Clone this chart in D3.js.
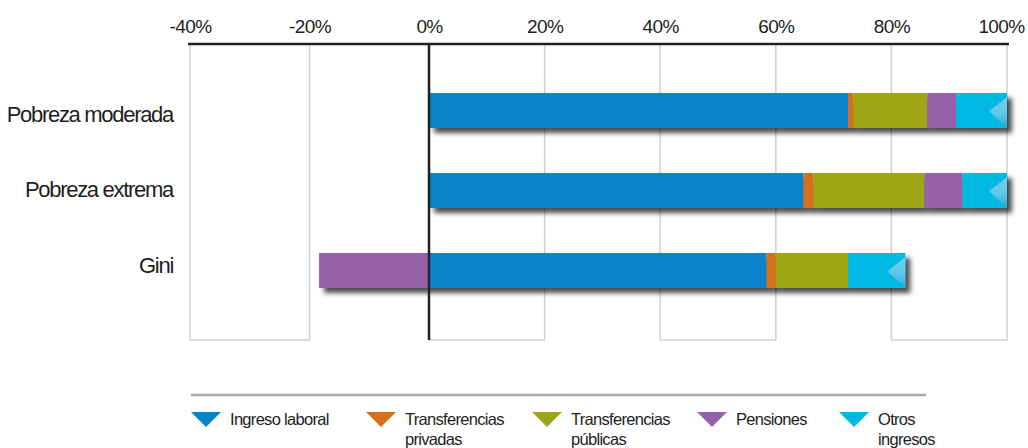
<!DOCTYPE html>
<html>
<head>
<meta charset="utf-8">
<script src="https://cdn.jsdelivr.net/npm/d3@7"></script>
<style>
  html, body { margin: 0; padding: 0; background: #fff; }
  svg { display: block; }
  text { font-family: "Liberation Sans", Arial, sans-serif; fill: #1e1e1e; }
</style>
</head>
<body>
<svg id="chart" width="1028" height="448"></svg>
<script>
// ---- data ----
const categories = ["Pobreza moderada", "Pobreza extrema", "Gini"];
const seriesNames = ["Ingreso laboral", "Transferencias privadas", "Transferencias públicas", "Pensiones", "Otros ingresos"];
const legendLabels = [["Ingreso laboral"], ["Transferencias", "privadas"], ["Transferencias", "públicas"], ["Pensiones"], ["Otros", "ingresos"]];
const ingresoLaboral = [72.5, 64.8, 58.4];
const transferenciasPrivadas = [0.9, 1.7, 1.6];
const transferenciasPublicas = [12.8, 19.2, 12.5];
const pensiones = [5.0, 6.6, -18.4];
const otrosIngresos = [8.8, 7.7, 9.9];
const tickValues = [-40, -20, 0, 20, 40, 60, 80, 100];
const colors = ["#0784c9", "#d6701c", "#9fa518", "#9461a8", "#00b9e2"];

const rows = categories.map((c, i) => ({
  cat: c,
  "Ingreso laboral": ingresoLaboral[i],
  "Transferencias privadas": transferenciasPrivadas[i],
  "Transferencias públicas": transferenciasPublicas[i],
  "Pensiones": pensiones[i],
  "Otros ingresos": otrosIngresos[i]
}));

const svg = d3.select("#chart");
const plotTop = 44, plotBottom = 340;

const x = d3.scaleLinear().domain([-40, 0, 100]).range([190, 429, 1007]);
const y = d3.scaleBand().domain(categories).range([73, 308]).paddingInner(0.5625).paddingOuter(0.25);
const color = d3.scaleOrdinal().domain(seriesNames).range(colors);

// defs: shadow + triangle gradient
const defs = svg.append("defs");
const f = defs.append("filter").attr("id", "shadow").attr("x", "-5%").attr("y", "-30%").attr("width", "115%").attr("height", "190%");
f.append("feDropShadow").attr("dx", 5).attr("dy", 5).attr("stdDeviation", 2.6)
  .attr("flood-color", "#000").attr("flood-opacity", 0.7);
const g1 = defs.append("linearGradient").attr("id", "triGrad").attr("x1", 0).attr("y1", 0).attr("x2", 0).attr("y2", 1);
g1.append("stop").attr("offset", "0%").attr("stop-color", "#6fd0f0");
g1.append("stop").attr("offset", "55%").attr("stop-color", "#5cc8ec");
g1.append("stop").attr("offset", "100%").attr("stop-color", "#2aa6d0");

// alternating boxes
const boxes = [];
for (let i = 0; i + 1 < tickValues.length; i += 2) boxes.push([tickValues[i], tickValues[i + 1]]);
svg.append("g").selectAll("rect").data(boxes).join("rect")
  .attr("x", d => x(d[0])).attr("y", plotTop)
  .attr("width", d => x(d[1]) - x(d[0])).attr("height", plotBottom - plotTop)
  .attr("fill", "none").attr("stroke", "#d2d2d2").attr("stroke-width", 1.5);

// top axis labels
const axis = d3.axisTop(x).tickValues(tickValues).tickFormat(d => d + "%").tickSize(0).tickPadding(0);
const ax = svg.append("g").attr("transform", `translate(0,${plotTop})`).call(axis);
ax.select(".domain").remove();
ax.selectAll("text")
  .attr("y", -11).attr("dy", 0)
  .attr("dx", (d, i) => (i === tickValues.length - 1 ? -6 : 0))
  .style("font-family", "'Liberation Sans', Arial, sans-serif")
  .style("font-size", "19px").style("letter-spacing", "-0.6px").style("fill", "#1e1e1e");

// stacked bars
const stack = d3.stack().keys(seriesNames).offset(d3.stackOffsetDiverging);
const stacked = stack(rows);

const rowG = svg.append("g").selectAll("g").data(categories).join("g").attr("filter", "url(#shadow)");
rowG.each(function (cat, ri) {
  const g = d3.select(this);
  stacked.forEach(s => {
    const d = s[ri];
    g.append("rect")
      .attr("x", x(Math.min(d[0], d[1])))
      .attr("y", y(cat))
      .attr("width", Math.abs(x(d[1]) - x(d[0])))
      .attr("height", y.bandwidth())
      .attr("fill", color(s.key));
  });
});

// end triangles on the last positive segment
const last = stacked[stacked.length - 1];
svg.append("g").selectAll("path").data(categories).join("path")
  .attr("d", (cat, i) => {
    const xe = x(last[i][1]);
    const t = y(cat), b = t + y.bandwidth();
    const m = t + y.bandwidth() * 0.52;
    return `M${xe},${t + 4}L${xe - 18},${m}L${xe},${b}Z`;
  })
  .attr("fill", "url(#triGrad)");

// zero line and top line
svg.append("line").attr("x1", x(0)).attr("x2", x(0)).attr("y1", plotTop).attr("y2", plotBottom)
  .attr("stroke", "#222").attr("stroke-width", 2.5);
svg.append("line").attr("x1", 188).attr("x2", 1009).attr("y1", plotTop).attr("y2", plotTop)
  .attr("stroke", "#222").attr("stroke-width", 2.5);

// category labels
const labelDy = [11, 6, 2];
svg.append("g").selectAll("text").data(categories).join("text")
  .attr("x", 173).attr("y", (d, i) => y(d) + y.bandwidth() / 2 + labelDy[i])
  .attr("text-anchor", "end")
  .style("font-size", "22px").style("letter-spacing", "-1.3px")
  .text(d => d);

// legend
svg.append("line").attr("x1", 191).attr("x2", 926).attr("y1", 395).attr("y2", 395)
  .attr("stroke", "#a8a8a8").attr("stroke-width", 2.7);
const legendX = [191, 366, 532, 697, 839];
const lg = svg.append("g").selectAll("g").data(seriesNames).join("g")
  .attr("transform", (d, i) => `translate(${legendX[i]},412)`);
lg.append("path").attr("d", "M0,0L30,0L15,15Z").attr("fill", d => color(d));
lg.append("text").attr("x", 39).attr("y", 13)
  .style("font-size", "16.5px").style("letter-spacing", "-0.7px")
  .selectAll("tspan").data((d, i) => legendLabels[i]).join("tspan")
  .attr("x", 39).attr("dy", (d, j) => j === 0 ? 0 : 20).text(d => d);
</script>
</body>
</html>
